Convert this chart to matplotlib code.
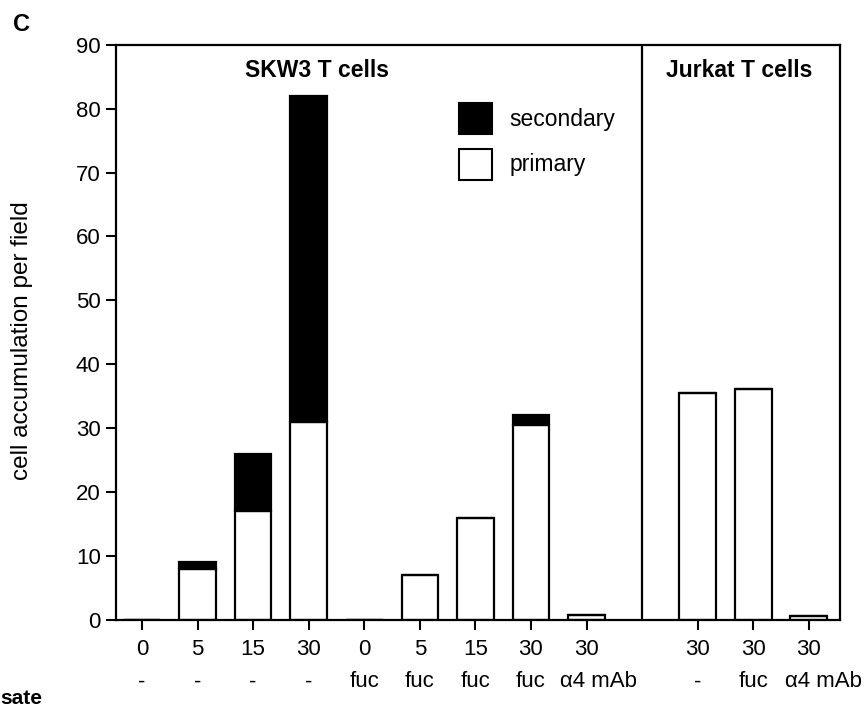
import matplotlib
matplotlib.use("Agg")
import matplotlib.pyplot as plt
from matplotlib.patches import Patch
from matplotlib.transforms import blended_transform_factory, ScaledTranslation

plt.rcParams['font.family'] = ['Liberation Sans', 'DejaVu Sans']

# Data
times = ["0", "5", "15", "30", "0", "5", "15", "30", "30", "30", "30", "30"]
treatments = ["-", "-", "-", "-", "fuc", "fuc", "fuc", "fuc", "α4 mAb", "-", "fuc", "α4 mAb"]
positions = [0, 1, 2, 3, 4, 5, 6, 7, 8, 10, 11, 12]
primary = [0, 8, 17, 31, 0, 7, 16, 30.5, 0.8, 35.5, 36.2, 0.6]
secondary = [0, 1, 9, 51, 0, 0, 0, 1.5, 0, 0, 0, 0]

fig = plt.figure(figsize=(8.65, 7.1), dpi=100)
ax = fig.add_axes([0.134, 0.127, 0.837, 0.81])

w = 0.66
ax.bar(positions, primary, width=w, color="white", edgecolor="black", linewidth=1.6, zorder=2)
ax.bar(positions, secondary, width=w, bottom=primary, color="black", edgecolor="black", linewidth=1.6, zorder=2)

ax.set_xlim(-0.47, 12.56)
ax.set_ylim(0, 90)
ax.axvline(9, color="black", linewidth=1.6)

ax.set_yticks(range(0, 91, 10))
ax.tick_params(axis="y", direction="out", length=7, width=1.5, labelsize=16, pad=4)
ax.set_xticks(positions)
ax.set_xticklabels(times)
ax.tick_params(axis="x", direction="out", length=7, width=1.5, labelsize=16, pad=7)
for s in ax.spines.values():
    s.set_linewidth(1.6)

# second row of x labels (treatment)
trans = blended_transform_factory(ax.transData, ax.transAxes)
for p, tr in zip(positions, treatments):
    dx = 0.0
    if tr.startswith("α4"):
        dx = 0.12 if p < 9 else 0.145
    t = trans + ScaledTranslation(dx, -0.62, fig.dpi_scale_trans)
    ax.text(p, 0, tr, transform=t, ha="center", va="center", fontsize=16, clip_on=False)

ax.set_ylabel("cell accumulation per field", fontsize=17.5)
ax.yaxis.set_label_coords(-0.115, 0.485)

ax.text(3.15, 86, "SKW3 T cells", ha="center", va="center", fontsize=16.5, fontweight="bold")
ax.text(10.74, 86, "Jurkat T cells", ha="center", va="center", fontsize=16.5, fontweight="bold")

handles = [Patch(facecolor="black", edgecolor="black", linewidth=1.5, label="secondary"),
           Patch(facecolor="white", edgecolor="black", linewidth=1.5, label="primary")]
ax.legend(handles=handles, loc="upper left", bbox_to_anchor=(0.445, 0.935), frameon=False,
          fontsize=16.5, handlelength=1.45, handleheight=1.7, labelspacing=0.65, handletextpad=0.75)

fig.text(0.015, 0.965, "C", fontsize=17, fontweight="bold", ha="left", va="center")
fig.text(0.0, 0.016, "sate", fontsize=15, fontweight="bold", ha="left", va="center")

fig.savefig("out.png", dpi=100)
